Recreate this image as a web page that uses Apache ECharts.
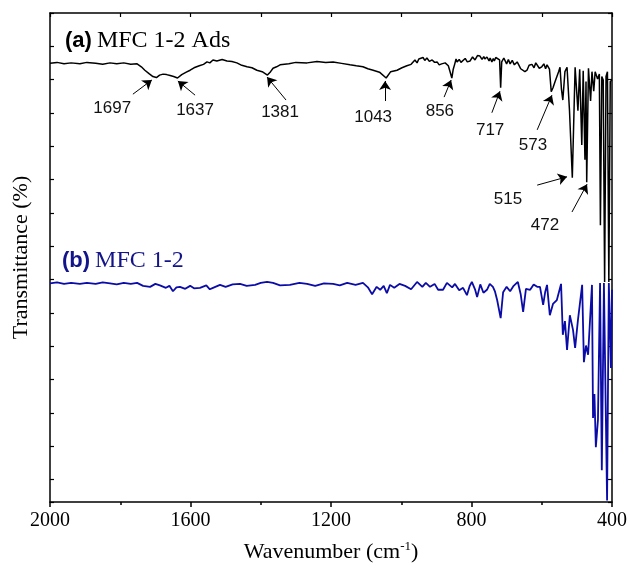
<!DOCTYPE html>
<html>
<head>
<meta charset="utf-8">
<title>FTIR MFC 1-2</title>
<script src="https://cdn.jsdelivr.net/npm/echarts@6/dist/echarts.min.js"></script>
<style>
  html, body { margin: 0; padding: 0; background: #fff; }
  #chart { width: 630px; height: 572px; }
</style>
</head>
<body>
<div id="chart"></div>
<script>
// (a) MFC 1-2 Ads - wavenumber / transmittance (a.u., offset)
const wnAds = [2000,1980,1960,1940,1915,1895,1870,1850,1829,1810,1790,1770,1752,1740,1730,1718,1707,1697,1688,1678,1668,1658,1648,1637,1625,1612,1601,1590,1575,1563,1553,1545,1536,1525,1510,1496,1482,1468,1454,1439,1425,1411,1396,1381,1372,1365,1355,1345,1320,1300,1268,1240,1215,1194,1170,1146,1128,1109,1095,1080,1062,1043,1030,1012,998,984,972,
    961,955,950,945,938,933,927,920,912,905,898,892,885,880,875,870,866,861,856,852,848,844,841,835,830,825,818,812,804,797,790,783,776,770,765,762,756,750,747,742,738,735,731,727,720,717,714,711,708,705,700,695,690,684,678,670,664,660,655,648,642,636,628,622,617,613,607,600,594,589,585,578,
    573,568,562,557,552,548,544,540,534,528,521,513,505,497,492,486,482,477,474,472,467,461,457,452,448,441,436,433,429,425,421,417,413,409,405,400]
const tAds = [89.7,89.9,89.6,89.8,89.6,89.9,89.7,89.5,89.8,89.6,89.8,89.5,89.6,89.0,88.3,87.6,87.0,86.8,87.3,87.5,87.4,87.2,87.0,86.7,87.4,87.9,88.3,88.8,89.2,89.5,90.0,89.8,90.4,90.2,90.5,90.2,90.1,89.8,89.3,89.0,88.8,88.3,88.0,87.3,88.0,88.7,89.0,89.4,89.6,89.9,89.8,90.1,89.9,90.0,89.7,89.4,89.2,89.0,88.6,88.3,87.9,86.7,88.0,88.3,88.8,89.2,89.5,
    90.4,89.8,90.6,90.2,90.9,90.3,90.8,90.1,90.4,89.9,90.0,89.4,89.6,90.0,89.8,89.5,89.2,88.0,86.7,88.5,89.5,90.6,90.0,90.5,89.9,90.3,90.7,90.0,90.2,91.0,90.4,91.3,91.2,90.5,91.1,90.6,91.0,90.2,90.8,90.0,90.7,90.2,90.9,90.6,90.4,84.7,90.0,90.2,90.8,90.4,89.6,90.5,89.6,90.3,89.4,90.0,89.2,88.6,89.0,88.0,88.3,89.3,89.5,88.8,89.8,90.0,88.7,89.0,89.6,88.6,89.4,88.5,
    83.9,84.7,86.0,86.3,88.0,88.9,84.5,82.2,88.0,88.9,80.0,66.3,88.9,80.0,88.5,73.0,88.2,70.0,86.0,65.4,88.7,82.0,88.0,84.0,88.0,86.5,87.5,56.6,87.0,86.3,45.0,87.0,88.0,45.0,86.0,86.3]

// (b) MFC 1-2
const wnRaw = [2000,1980,1960,1940,1915,1895,1870,1850,1829,1810,1790,1770,1752,1735,1715,1700,1687,1670,1660,1650,1640,1630,1615,1601,1590,1573,1555,1545,1536,1516,1500,1480,1459,1440,1416,1400,1382,1365,1345,1317,1290,1268,1245,1220,1194,1175,1154,1130,1109,1095,1083,1070,1060,1050,1041,1032,1020,1005,989,972,955,940,930,918,905,895,881,870,855,847,835,824,813,805,799,790,784,775,766,756,748,739,733,727,717,710,700,690,680,668,660,653,645,633,623,613,605,596,590,585,577,568,557,545,540,534,528,520,511,505,497,485,480,474,468,457,454,450,446,440,434,429,423,414,409,403,400]
const tRaw = [44.7,44.9,44.6,44.8,44.6,44.8,44.6,44.9,44.7,44.5,44.8,44.6,44.8,44.2,44.0,44.6,44.3,43.8,44.2,43.1,43.9,44.0,43.6,44.2,43.7,43.8,44.3,43.5,43.8,44.4,44.0,44.5,44.6,44.2,44.4,44.8,45.0,44.8,44.3,44.4,44.8,44.6,44.2,44.7,44.6,44.3,44.8,44.4,44.8,43.9,42.5,44.0,43.4,44.2,42.7,44.4,43.8,44.6,44.2,43.5,45.0,44.0,44.8,44.0,44.6,43.4,43.4,44.8,43.9,44.6,43.3,43.8,42.3,44.2,45.0,43.5,41.9,44.5,42.8,43.4,44.6,44.0,43.0,41.3,37.6,42.9,44.0,43.1,44.2,45.0,42.5,38.9,43.6,43.4,44.5,44.0,44.0,40.3,43.0,44.4,38.2,40.5,41.3,44.6,34.2,37.0,31.1,38.2,35.2,31.5,37.2,44.4,28.6,32.0,30.1,44.4,17.2,22.1,11.2,16.8,44.8,6.5,44.8,0.3,44.8,27.4,43.4]

// peak annotations: label text, label position, arrow tail and head
const peakLabels = [1697, 1637, 1381, 1043, 856, 717, 573, 515, 472]
const labelWn = [1823, 1587, 1345, 1080, 890, 747, 625, 696, 591]
const labelT = [80.6, 80.2, 79.6, 78.7, 79.8, 76.1, 73.0, 61.8, 56.6]
const tailWn = [1764, 1587, 1328, 1046, 878, 742, 613, 613, 514]
const tailT = [83.4, 83.2, 82.2, 82.0, 82.8, 79.6, 76.1, 64.8, 59.3]
const headWn = [1710, 1636, 1382, 1046, 858, 719, 571, 528, 471]
const headT = [86.3, 86.1, 86.9, 86.1, 86.3, 84.0, 83.2, 66.5, 65.0]

const chart = echarts.init(document.getElementById('chart'))

const serif = 'Liberation Serif'
const sans = 'Liberation Sans'
const frame = { show: true, lineStyle: { color: '#000', width: 1.5 } }

const arrows = peakLabels.map((p, i) => [
    { coord: [tailWn[i], tailT[i]] },
    { coord: [headWn[i], headT[i]] }
])
const labels = peakLabels.map((p, i) => ({ coord: [labelWn[i], labelT[i]], value: p }))

const option = {
    animation: false,
    backgroundColor: '#fff',
    title: [
        {
            text: '{a|(a)} {b|MFC 1-2 Ads}',
            left: 60, top: 24,
            textStyle: {
                rich: {
                    a: { fontFamily: sans, fontWeight: 'bold', fontSize: 22, color: '#000' },
                    b: { fontFamily: serif, fontWeight: 'normal', fontSize: 24, color: '#000' }
                }
            }
        },
        {
            text: '{a|(b)} {b|MFC 1-2}',
            left: 57, top: 244,
            textStyle: {
                rich: {
                    a: { fontFamily: sans, fontWeight: 'bold', fontSize: 22, color: '#14148a' },
                    b: { fontFamily: serif, fontWeight: 'normal', fontSize: 24, color: '#14148a' }
                }
            }
        }
    ],
    grid: { left: 50, right: 18, top: 13, bottom: 70 },
    xAxis: [
        {
            type: 'value', position: 'bottom', inverse: true,
            min: 400, max: 2000, interval: 400,
            axisLine: frame,
            axisTick: { show: true, inside: false, length: 5, lineStyle: { color: '#000', width: 1.5 } },
            minorTick: { show: true, splitNumber: 2, length: 3, lineStyle: { color: '#000', width: 1.5 } },
            axisLabel: { color: '#000', fontFamily: serif, fontSize: 20, margin: 9, formatter: v => String(v) },
            splitLine: { show: false },
            name: 'Wavenumber (cm{sup|-1})',
            nameLocation: 'middle', nameGap: 38,
            nameTextStyle: {
                color: '#000', fontFamily: serif, fontSize: 22,
                rich: { sup: { fontFamily: serif, fontSize: 13, color: '#000', padding: [0, 0, 12, 0] } }
            }
        },
        {
            type: 'value', position: 'top', inverse: true,
            min: 400, max: 2000, interval: 200,
            axisLine: frame,
            axisTick: { show: true, inside: true, length: 4, lineStyle: { color: '#000', width: 1.2 } },
            axisLabel: { show: false },
            splitLine: { show: false }
        }
    ],
    yAxis: [
        { type: 'value', min: 0, max: 100, show: false },
        {
            type: 'value', position: 'left', inverse: true,
            min: 0, max: 14.67, interval: 1,
            axisLine: frame,
            axisTick: { show: true, inside: true, length: 4, lineStyle: { color: '#000', width: 1.2 } },
            axisLabel: { show: false },
            splitLine: { show: false },
            name: 'Transmittance (%)',
            nameLocation: 'middle', nameGap: 18,
            nameTextStyle: { color: '#000', fontFamily: serif, fontSize: 22 }
        },
        {
            type: 'value', position: 'right', inverse: true,
            min: 0, max: 14.67, interval: 1,
            axisLine: frame,
            axisTick: { show: true, inside: true, length: 4, lineStyle: { color: '#000', width: 1.2 } },
            axisLabel: { show: false },
            splitLine: { show: false }
        }
    ],
    series: [
        {
            name: 'MFC 1-2',
            type: 'line',
            xAxisIndex: 0, yAxisIndex: 0,
            data: wnRaw.map((w, i) => [w, tRaw[i]]),
            showSymbol: false,
            lineStyle: { color: '#0b0ba8', width: 1.8 },
            z: 2
        },
        {
            name: 'MFC 1-2 Ads',
            type: 'line',
            xAxisIndex: 0, yAxisIndex: 0,
            data: wnAds.map((w, i) => [w, tAds[i]]),
            showSymbol: false,
            lineStyle: { color: '#000', width: 1.5 },
            z: 3,
            markLine: {
                silent: true,
                symbol: ['none', 'arrow'],
                symbolSize: 9,
                label: { show: false },
                lineStyle: { color: '#000', width: 1, type: 'solid' },
                data: arrows
            },
            markPoint: {
                silent: true,
                symbol: 'rect',
                symbolSize: 1,
                itemStyle: { color: 'rgba(0,0,0,0)' },
                label: {
                    show: true, position: 'inside', formatter: '{c}',
                    color: '#111', fontFamily: sans, fontSize: 17
                },
                data: labels
            }
        }
    ]
}

chart.setOption(option)
</script>
</body>
</html>
